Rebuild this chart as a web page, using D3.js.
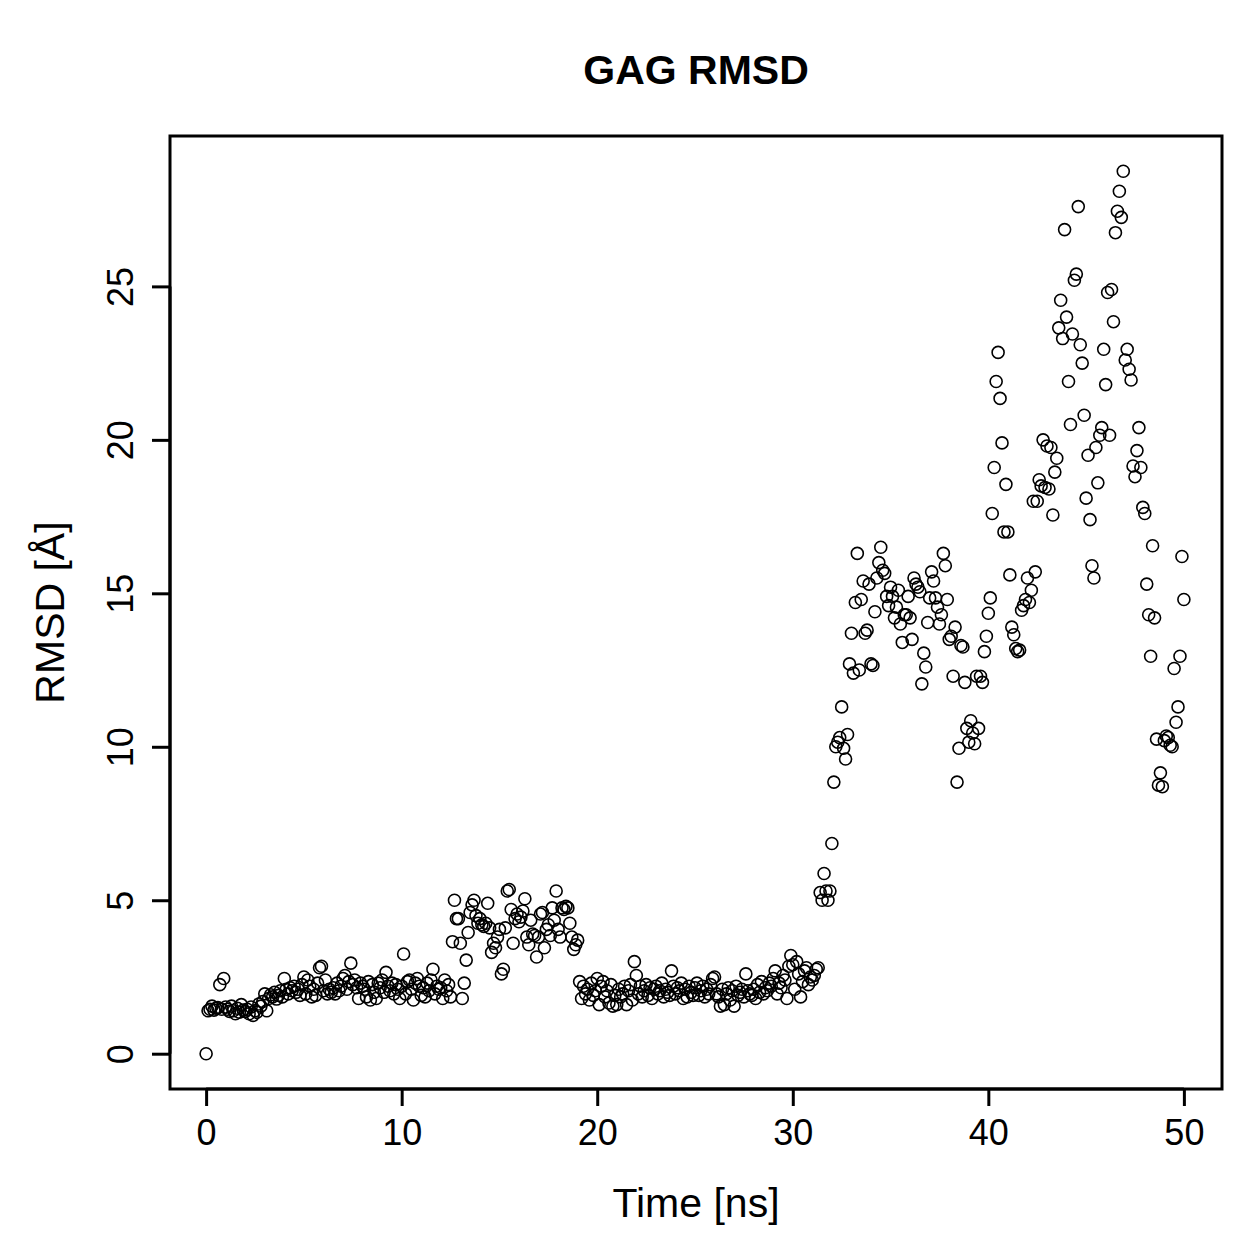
<!DOCTYPE html>
<html>
<head>
<meta charset="utf-8">
<script src="https://cdn.jsdelivr.net/npm/d3@7"></script>
<style>
  body { margin: 0; background: #fff; }
  text { font-family: "Liberation Sans", Arial, Helvetica, sans-serif; fill: #000; }
</style>
</head>
<body>
<div id="chart"></div>
<script>
// GAG RMSD scatter - one frame every 0.1 ns, 0..50 ns

const timeStep = 0.1; // ns between frames

// RMSD in Angstrom, 10 frames per row (1 ns)
const rmsd = [
  0.00, 1.40, 1.45, 1.55, 1.42, 1.48, 1.50, 2.25, 1.45, 2.45,
  1.52, 1.45, 1.38, 1.55, 1.40, 1.30, 1.48, 1.35, 1.60, 1.42,
  1.38, 1.45, 1.30, 1.52, 1.25, 1.40, 1.35, 1.62, 1.55, 1.70,
  1.95, 1.40, 1.80, 1.92, 1.85, 2.00, 1.78, 1.90, 2.05, 1.85,
  2.45, 2.10, 1.95, 2.15, 2.05, 2.20, 2.00, 2.10, 1.90, 2.25,
  2.50, 1.95, 2.40, 2.20, 1.85, 2.10, 1.90, 2.30, 2.80, 2.85,
  2.05, 2.40, 1.95, 2.10, 2.00, 2.15, 1.95, 2.30, 2.05, 2.20,
  2.45, 2.55, 2.10, 2.35, 2.95, 2.25, 2.40, 2.15, 1.80, 2.30,
  2.20, 2.10, 1.85, 2.35, 1.75, 2.25, 2.00, 1.80, 2.30, 2.15,
  2.40, 2.00, 2.65, 2.20, 2.05, 2.30, 1.95, 2.25, 2.10, 1.80,
  2.20, 3.25, 1.95, 2.35, 2.40, 2.10, 1.75, 2.30, 2.45, 2.20,
  1.90, 2.15, 1.85, 2.30, 2.05, 2.40, 2.75, 1.95, 2.20, 2.10,
  2.15, 1.80, 2.40, 2.05, 2.25, 1.85, 3.65, 5.00, 4.40, 4.40,
  3.60, 1.80, 2.30, 3.05, 3.95, 4.60, 4.85, 5.00, 4.50, 4.25,
  4.40, 4.20, 4.15, 4.25, 4.90, 4.10, 3.30, 3.60, 3.45, 3.80,
  4.05, 2.60, 2.75, 4.10, 5.30, 5.35, 4.70, 3.60, 4.40, 4.55,
  4.30, 4.45, 4.65, 5.05, 3.80, 3.55, 4.35, 3.90, 3.85, 3.15,
  3.80, 4.55, 4.60, 3.45, 4.05, 4.20, 3.85, 4.75, 4.35, 5.30,
  4.05, 3.80, 4.75, 4.70, 4.80, 4.75, 4.25, 3.80, 3.40, 3.55,
  3.70, 2.35, 1.80, 2.20, 1.95, 2.10, 1.75, 2.30, 1.90, 2.05,
  2.45, 1.60, 2.20, 2.35, 1.85, 2.05, 1.65, 2.25, 1.55, 1.90,
  1.60, 2.10, 1.85, 1.95, 2.20, 1.60, 2.05, 2.25, 1.75, 3.00,
  2.55, 1.95, 2.20, 1.85, 2.05, 2.25, 1.90, 2.15, 1.80, 2.10,
  2.20, 1.95, 2.05, 2.30, 1.85, 2.10, 2.00, 1.90, 2.70, 2.20,
  1.95, 2.15, 2.05, 2.30, 1.80, 2.10, 1.85, 2.20, 2.00, 1.90,
  2.15, 2.30, 1.90, 2.05, 2.20, 1.85, 2.10, 1.95, 2.25, 2.45,
  2.50, 1.95, 1.85, 1.55, 2.10, 1.60, 1.95, 2.15, 1.75, 2.05,
  1.55, 2.20, 1.90, 2.00, 2.10, 1.85, 2.60, 2.05, 1.95, 1.90,
  2.10, 1.80, 2.25, 2.00, 2.35, 1.95, 2.15, 2.05, 2.30, 2.20,
  2.45, 2.70, 1.95, 2.30, 2.15, 2.55, 2.40, 1.80, 2.85, 3.20,
  2.90, 2.10, 3.00, 2.60, 1.85, 2.35, 2.70, 2.80, 2.25, 2.50,
  2.40, 2.55, 2.75, 2.80, 5.25, 5.00, 5.87, 5.30, 5.00, 5.30,
  6.85, 8.85, 10.00, 10.15, 10.30, 11.30, 9.95, 9.60, 10.40, 12.70,
  13.70, 12.40, 14.70, 16.30, 12.50, 14.80, 15.40, 13.70, 13.80, 15.30,
  12.70, 12.65, 14.40, 15.50, 16.00, 16.50, 15.75, 15.65, 14.90, 14.60,
  15.20, 14.90, 14.20, 14.55, 15.10, 14.00, 13.40, 14.30, 14.30, 14.90,
  14.20, 13.50, 15.50, 15.30, 15.20, 15.05, 12.05, 13.05, 12.60, 14.05,
  14.85, 15.70, 15.40, 14.85, 14.55, 14.00, 14.30, 16.30, 15.90, 14.80,
  13.50, 13.60, 12.30, 13.90, 8.85, 9.95, 13.30, 13.25, 12.10, 10.60,
  10.15, 10.85, 10.45, 10.10, 12.30, 10.60, 12.30, 12.10, 13.10, 13.60,
  14.35, 14.85, 17.60, 19.10, 21.90, 22.85, 21.35, 19.90, 17.00, 18.55,
  17.00, 15.60, 13.90, 13.65, 13.20, 13.10, 13.15, 14.45, 14.60, 14.80,
  15.50, 14.70, 15.10, 18.00, 15.70, 18.00, 18.70, 18.50, 20.00, 18.45,
  19.80, 18.40, 19.75, 17.55, 18.95, 19.40, 23.65, 24.55, 23.30, 26.85,
  24.00, 21.90, 20.50, 23.45, 25.20, 25.40, 27.60, 23.10, 22.50, 20.80,
  18.10, 19.50, 17.40, 15.90, 15.50, 19.75, 18.60, 20.15, 20.40, 22.95,
  21.80, 24.80, 20.15, 24.90, 23.85, 26.75, 27.45, 28.10, 27.25, 28.75,
  22.60, 22.95, 22.30, 21.95, 19.15, 18.80, 19.65, 20.40, 19.10, 17.80,
  17.60, 15.30, 14.30, 12.95, 16.55, 14.20, 10.25, 8.75, 9.15, 8.70,
  10.20, 10.35, 10.30, 10.05, 10.00, 12.55, 10.80, 11.30, 12.95, 16.20,
  14.80
];

const xTicks = [0, 10, 20, 30, 40, 50];
const yTicks = [0, 5, 10, 15, 20, 25];

const title = 'GAG RMSD';
const xLabel = 'Time [ns]';
const yLabel = 'RMSD [Å]';

const W = 1259, H = 1259;
const box = { left: 170, right: 1222, top: 136, bottom: 1089 };

const points = rmsd.map((v, i) => ({ t: i * timeStep, v: v }));

// R style 4% padding on both axes
const tExt = d3.extent(points, d => d.t);
const vExt = d3.extent(points, d => d.v);
const tPad = (tExt[1] - tExt[0]) * 0.04;
const vPad = (vExt[1] - vExt[0]) * 0.04;

const x = d3.scaleLinear()
  .domain([tExt[0] - tPad, tExt[1] + tPad])
  .range([box.left - 3, box.right + 1]);
const y = d3.scaleLinear()
  .domain([vExt[0] - vPad, vExt[1] + vPad])
  .range([box.bottom, box.top]);

const svg = d3.select('#chart').append('svg')
  .attr('width', W)
  .attr('height', H);

svg.append('rect').attr('width', W).attr('height', H).attr('fill', '#fff');

// points
svg.append('g')
  .selectAll('circle')
  .data(points)
  .enter()
  .append('circle')
  .attr('cx', d => x(d.t))
  .attr('cy', d => y(d.v))
  .attr('r', 6)
  .attr('fill', 'none')
  .attr('stroke', '#000')
  .attr('stroke-width', 1.6);

// frame
svg.append('rect')
  .attr('x', box.left)
  .attr('y', box.top)
  .attr('width', box.right - box.left)
  .attr('height', box.bottom - box.top)
  .attr('fill', 'none')
  .attr('stroke', '#000')
  .attr('stroke-width', 3);

// x axis
const xAxis = d3.axisBottom(x).tickValues(xTicks).tickSize(17).tickPadding(13).tickFormat(d3.format('d'));
const gx = svg.append('g').attr('transform', `translate(0,${box.bottom})`).call(xAxis);
gx.select('.domain')
  .attr('d', `M${x(xTicks[0])},0H${x(xTicks[xTicks.length - 1])}`)
  .attr('stroke-width', 3);
gx.selectAll('.tick line').attr('stroke-width', 3);
gx.selectAll('.tick text')
  .style('font-size', '36px')
  .attr('fill', '#000');

// y axis, labels turned like R's las=0
const yAxis = d3.axisLeft(y).tickValues(yTicks).tickSize(18).tickFormat(d3.format('d'));
const gy = svg.append('g').attr('transform', `translate(${box.left},0)`).call(yAxis);
gy.select('.domain')
  .attr('d', `M0,${y(yTicks[0])}V${y(yTicks[yTicks.length - 1])}`)
  .attr('stroke-width', 3);
gy.selectAll('.tick line').attr('stroke-width', 3);
gy.selectAll('.tick text')
  .attr('x', null)
  .attr('dy', null)
  .attr('text-anchor', 'middle')
  .attr('dominant-baseline', 'central')
  .attr('transform', 'translate(-50,0) rotate(-90)')
  .style('font-size', '36px')
  .attr('fill', '#000');

// titles
svg.append('text')
  .attr('x', (box.left + box.right) / 2)
  .attr('y', 70)
  .attr('text-anchor', 'middle')
  .attr('dominant-baseline', 'central')
  .style('font-size', '41px')
  .style('font-weight', 'bold')
  .text(title);

svg.append('text')
  .attr('x', (box.left + box.right) / 2)
  .attr('y', 1203)
  .attr('text-anchor', 'middle')
  .attr('dominant-baseline', 'central')
  .style('font-size', '41px')
  .text(xLabel);

svg.append('text')
  .attr('transform', `translate(50,${(box.top + box.bottom) / 2}) rotate(-90)`)
  .attr('text-anchor', 'middle')
  .attr('dominant-baseline', 'central')
  .style('font-size', '41px')
  .text(yLabel);
</script>
</body>
</html>
